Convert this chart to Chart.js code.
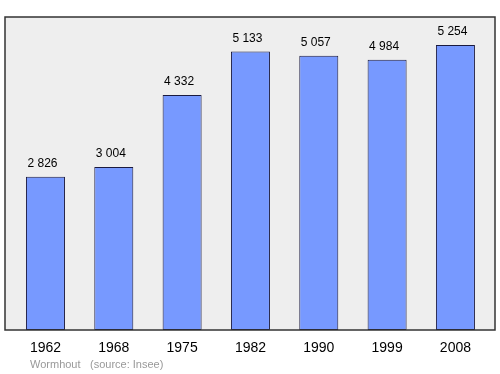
<!DOCTYPE html>
<html>
<head>
<meta charset="utf-8">
<script src="https://cdn.jsdelivr.net/npm/chart.js@4/dist/chart.umd.min.js"></script>
<style>
html,body{margin:0;padding:0;background:#fff;}
#wrap{width:500px;height:374px;position:relative;}
</style>
</head>
<body>
<div id="wrap"><canvas id="c" width="500" height="374"></canvas></div>
<script>
const years = ["1962","1968","1975","1982","1990","1999","2008"];
const population = [2826, 3004, 4332, 5133, 5057, 4984, 5254];
const footerPlace = "Wormhout";
const footerSource = "(source: Insee)";

function fmt(v){ return String(v).replace(/\B(?=(\d{3})+(?!\d))/g, " "); }

const framePlugin = {
  id: 'frame',
  beforeDatasetsDraw(chart){
    const a = chart.chartArea, ctx = chart.ctx;
    ctx.save();
    ctx.fillStyle = '#eeeeee';
    ctx.fillRect(5, a.top, 490, a.bottom - a.top);
    ctx.restore();
  },
  afterDatasetsDraw(chart){
    const a = chart.chartArea, ctx = chart.ctx;
    ctx.save();
    ctx.strokeStyle = '#333333';
    ctx.lineWidth = 1.5;
    ctx.strokeRect(5, a.top, 490, a.bottom - a.top);
    // value labels
    ctx.fillStyle = '#000';
    ctx.font = '12px "Liberation Sans", Arial, sans-serif';
    ctx.textAlign = 'center';
    ctx.textBaseline = 'alphabetic';
    const meta = chart.getDatasetMeta(0);
    meta.data.forEach((el, i) => {
      ctx.fillText(fmt(population[i]), el.x - 3, el.y - 10);
    });
    // footer
    ctx.fillStyle = '#999999';
    ctx.font = '11px "Liberation Sans", Arial, sans-serif';
    ctx.textAlign = 'left';
    ctx.textBaseline = 'middle';
    ctx.fillText(footerPlace, 30, 365);
    ctx.fillText(footerSource, 90, 365);
    ctx.restore();
  }
};

new Chart(document.getElementById('c'), {
  type: 'bar',
  data: {
    labels: years,
    datasets: [{
      data: population,
      backgroundColor: '#7799ff',
      borderColor: '#1a1a40',
      borderWidth: 1,
      borderSkipped: false,
      barPercentage: 0.571,
      categoryPercentage: 1
    }]
  },
  options: {
    responsive: false,
    animation: false,
    layout: { padding: { left: 11.3, right: 10.4, top: 17, bottom: 0 } },
    plugins: { legend: { display: false }, tooltip: { enabled: false }, title: { display: false } },
    scales: {
      x: {
        grid: { display: false, drawTicks: false },
        border: { display: false },
        ticks: { color: '#000', padding: 10, font: { size: 14, family: '"Liberation Sans", Arial, sans-serif' } },
        afterFit(scale){ scale.height = 44; }
      },
      y: {
        display: false,
        min: 0,
        max: 5770
      }
    }
  },
  plugins: [framePlugin]
});
</script>
</body>
</html>
